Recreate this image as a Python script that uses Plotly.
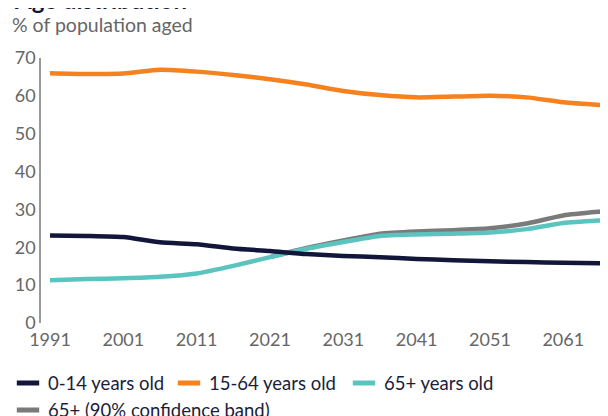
import plotly.graph_objects as go

years = [1991, 1996, 2001, 2006, 2011, 2016, 2021, 2026, 2031, 2036, 2041, 2046, 2051, 2056, 2061, 2066, 2070]
age_0_14 = [23.1, 23.0, 22.7, 21.3, 20.8, 19.7, 19.0, 18.2, 17.7, 17.4, 16.9, 16.6, 16.3, 16.1, 15.9, 15.8, 15.7]
age_15_64 = [66.0, 65.8, 65.9, 66.9, 66.4, 65.5, 64.4, 63.0, 61.3, 60.2, 59.6, 59.8, 60.0, 59.6, 58.3, 57.6, 57.2]
age_65_plus = [11.3, 11.6, 11.8, 12.2, 13.1, 15.1, 17.4, 19.6, 21.4, 23.0, 23.4, 23.6, 23.9, 24.8, 26.4, 27.1, 27.5]
band_years = [2021, 2026, 2031, 2036, 2041, 2046, 2051, 2056, 2061, 2066, 2070]
band_upper = [17.4, 19.8, 21.8, 23.6, 24.2, 24.5, 25.0, 26.3, 28.4, 29.4, 30.0]

x_ticks = [1991, 2001, 2011, 2021, 2031, 2041, 2051, 2061]
y_ticks = [0, 10, 20, 30, 40, 50, 60, 70]

names = ["0-14 years old", "15-64 years old", "65+ years old", "65+ (90% confidence band)"]
colors = ["#11163a", "#f5821f", "#5bc4bf", "#7a7a7a"]
legend_widths = [116, 130, 125, 260]

FONT = "Lato"
W, H = 600, 408          # page body keeps an 8px margin inside the 608x416 window
PLOT_TOP, PLOT_BOTTOM, PLOT_LEFT = 50.3, 314.7, 33

fig = go.Figure()

# band drawn first (underneath)
fig.add_trace(go.Scatter(x=band_years, y=band_upper, mode="lines",
                         line=dict(color=colors[3], width=4.5, shape="spline", smoothing=0.6),
                         showlegend=False, legendgroup="g3", name=names[3]))
series = [age_0_14, age_15_64, age_65_plus]
for i in [2, 1, 0]:
    fig.add_trace(go.Scatter(x=years, y=series[i], mode="lines",
                             line=dict(color=colors[i], width=4.5, shape="spline", smoothing=0.6),
                             showlegend=False, legendgroup="g%d" % i, name=names[i]))

# legend entries
for i in range(4):
    fig.add_trace(go.Scatter(x=[None], y=[None], mode="markers", name=names[i],
                             legendgroup="g%d" % i, legendwidth=legend_widths[i],
                             marker=dict(symbol="line-ew", size=16, color=colors[i],
                                         line=dict(color=colors[i], width=5))))

fig.update_layout(
    width=W, height=H,
    margin=dict(l=PLOT_LEFT, r=0, t=PLOT_TOP, b=H - PLOT_BOTTOM),
    paper_bgcolor="white", plot_bgcolor="white",
    font=dict(family=FONT, size=18, color="#666666"),
    showlegend=True,
    legend=dict(orientation="h", xref="container", yref="container",
                x=-10.6 / W, xanchor="left", y=1 - 356.5 / H, yanchor="top",
                font=dict(family=FONT, size=18.5, color="#1b1e3a"),
                tracegroupgap=0, itemwidth=30, bgcolor="rgba(0,0,0,0)"),
    xaxis=dict(range=[1989.77, 2067.1], tickvals=x_ticks, showline=False, showgrid=False,
               zeroline=False, ticks="", ticklabelstandoff=4,
               tickfont=dict(family=FONT, size=18, color="#666666")),
    yaxis=dict(range=[0, 70], tickvals=y_ticks, showline=True, linecolor="#9a9a9a", linewidth=1.5,
               showgrid=False, zeroline=False, ticks="", ticklabelstandoff=0,
               tickfont=dict(family=FONT, size=18, color="#666666")),
    annotations=[
        dict(text="<b>Age distribution</b>", xref="paper", yref="paper", x=-PLOT_LEFT / (W - PLOT_LEFT), y=1,
             xanchor="left", yanchor="bottom", yshift=41.5, xshift=4, showarrow=False,
             font=dict(family=FONT, size=24, color="#11163a")),
        dict(text="% of population aged", xref="paper", yref="paper", x=-PLOT_LEFT / (W - PLOT_LEFT), y=1,
             xanchor="left", yanchor="middle", yshift=34, xshift=2, showarrow=False,
             font=dict(family=FONT, size=19.5, color="#666666")),
    ],
)

fig.write_html("out.html")
